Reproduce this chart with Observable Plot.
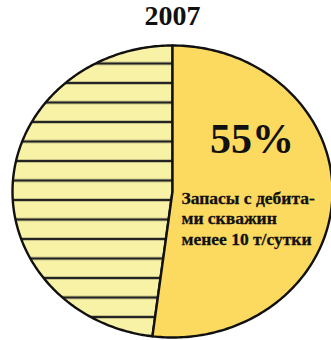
<!DOCTYPE html>
<html>
<head>
<meta charset="utf-8">
<script src="https://cdn.jsdelivr.net/npm/d3@7"></script>
<script src="https://cdn.jsdelivr.net/npm/@observablehq/plot@0.6"></script>
<style>
  html, body { margin: 0; padding: 0; background: #fff; }
  #chart svg { display: block; }
</style>
</head>
<body>
<div id="chart"></div>
<script>
const title = "2007";
const sliceNames = ["Запасы с дебитами скважин менее 10 т/сутки", "Прочие запасы"];
const sliceShares = [52, 48];
const percentLabel = "55%";
const sliceLabel = "Запасы с дебита-\nми скважин\nменее 10 т/сутки";

const pie = d3.pie().sort(null).value(d => d.share)(
  sliceNames.map((name, i) => ({name, share: sliceShares[i]}))
);

function slicePoints(arc) {
  const pts = [{x: 0, y: 0}];
  const n = 200;
  for (let k = 0; k <= n; k++) {
    const a = arc.startAngle + (arc.endAngle - arc.startAngle) * k / n;
    pts.push({x: Math.sin(a), y: Math.cos(a)});
  }
  return pts;
}

const mainPts = slicePoints(pie[0]);
const otherPts = slicePoints(pie[1]);

const plot = Plot.plot({
  width: 331,
  height: 340,
  margin: 0,
  x: {domain: [-1, 1], range: [12, 332], axis: null},
  y: {domain: [-1, 1], range: [337, 45], axis: null},
  style: {background: "#fff", overflow: "visible"},
  marks: [
    Plot.line(otherPts, {x: "x", y: "y", curve: "linear-closed", fill: "url(#hatch)", stroke: "#111", strokeWidth: 2.4}),
    Plot.line(mainPts, {x: "x", y: "y", curve: "linear-closed", fill: "#fcd95f", stroke: "#111", strokeWidth: 2.4}),
    Plot.text([title], {x: () => 0, frameAnchor: "top", lineAnchor: "top", dy: 5, text: d => d,
      fontFamily: "Liberation Serif", fontWeight: "bold", fontSize: 28, fill: "#111"}),
    Plot.text([percentLabel], {x: () => 0.497, y: () => 0.353, text: d => d, textAnchor: "middle",
      fontFamily: "Liberation Serif", fontWeight: "bold", fontSize: 42, fill: "#111"}),
    Plot.text([sliceLabel], {x: () => 0.056, y: () => -0.178, text: d => d, textAnchor: "start",
      lineHeight: 1.17, fontFamily: "Liberation Serif", fontWeight: "bold", fontSize: 17.5, fill: "#111",
      stroke: "#111", strokeWidth: 0.3})
  ]
});

const ns = "http://www.w3.org/2000/svg";
const defs = document.createElementNS(ns, "defs");
defs.innerHTML = `<pattern id="hatch" patternUnits="userSpaceOnUse" x="0" y="53.25" width="331" height="19.5">
  <rect x="0" y="0" width="331" height="19.5" fill="#f8f2a6"></rect>
  <line x1="0" x2="331" y1="9.75" y2="9.75" stroke="#222" stroke-width="2.2"></line>
</pattern>`;
plot.insertBefore(defs, plot.firstChild);
document.getElementById("chart").appendChild(plot);
</script>
</body>
</html>
